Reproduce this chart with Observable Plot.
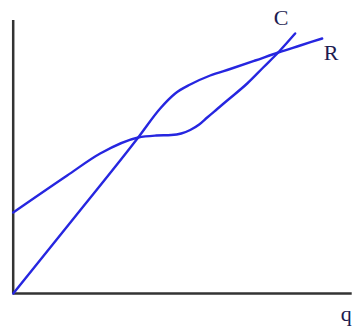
<!DOCTYPE html>
<html>
<head>
<meta charset="utf-8">
<script src="https://cdn.jsdelivr.net/npm/d3@7"></script>
<script src="https://cdn.jsdelivr.net/npm/@observablehq/plot@0.6"></script>
<style>
  html, body { margin: 0; padding: 0; background: #fff; overflow: hidden; }
</style>
</head>
<body>
<div id="chart"></div>
<script>
// Quantity values (q) and curve values
const costQ = [0, 54, 87, 125, 143, 158, 168, 177, 186, 194, 204, 214, 234, 250, 265, 282];
const costV = [81, 118, 140, 156, 158, 158.5, 160, 163.5, 169, 176, 184.5, 193, 210, 226, 241, 260];
const revQ = [0, 62, 125, 147, 162, 177, 197, 217, 242, 265, 287, 309];
const revV = [0, 77, 156, 185, 200, 209, 218, 224.5, 233, 241, 248, 255];

// Labels
const labelText = ["C", "R", "q"];
const labelQ = [268, 318, 333];
const labelV = [276, 241, -20];

// Axis extents
const axisQMax = 339;
const axisVMax = 273;

const cost = costQ.map((q, i) => ({q, v: costV[i]}));
const rev = revQ.map((q, i) => ({q, v: revV[i]}));
const labels = labelText.map((t, i) => ({t, q: labelQ[i], v: labelV[i]}));

const chart = Plot.plot({
  width: 354,
  height: 326,
  margin: 0,
  x: {domain: [-12.7, 341.3], range: [0, 354], axis: null},
  y: {domain: [-33, 293], range: [326, 0], axis: null},
  marks: [
    Plot.ruleX([0], {y1: 0, y2: axisVMax, stroke: "#333", strokeWidth: 2.5}),
    Plot.ruleY([0], {x1: 0, x2: axisQMax, stroke: "#333", strokeWidth: 2.5}),
    Plot.line(cost, {x: "q", y: "v", curve: "monotone-x", stroke: "#2626e0", strokeWidth: 2.4}),
    Plot.line(rev, {x: "q", y: "v", curve: "monotone-x", stroke: "#2626e0", strokeWidth: 2.4}),
    Plot.text(labels, {x: "q", y: "v", text: "t", fontSize: 22, fontFamily: "Liberation Serif", fill: "#1c1c50", textAnchor: "middle", lineAnchor: "middle"})
  ]
});
document.getElementById("chart").appendChild(chart);
</script>
</body>
</html>
